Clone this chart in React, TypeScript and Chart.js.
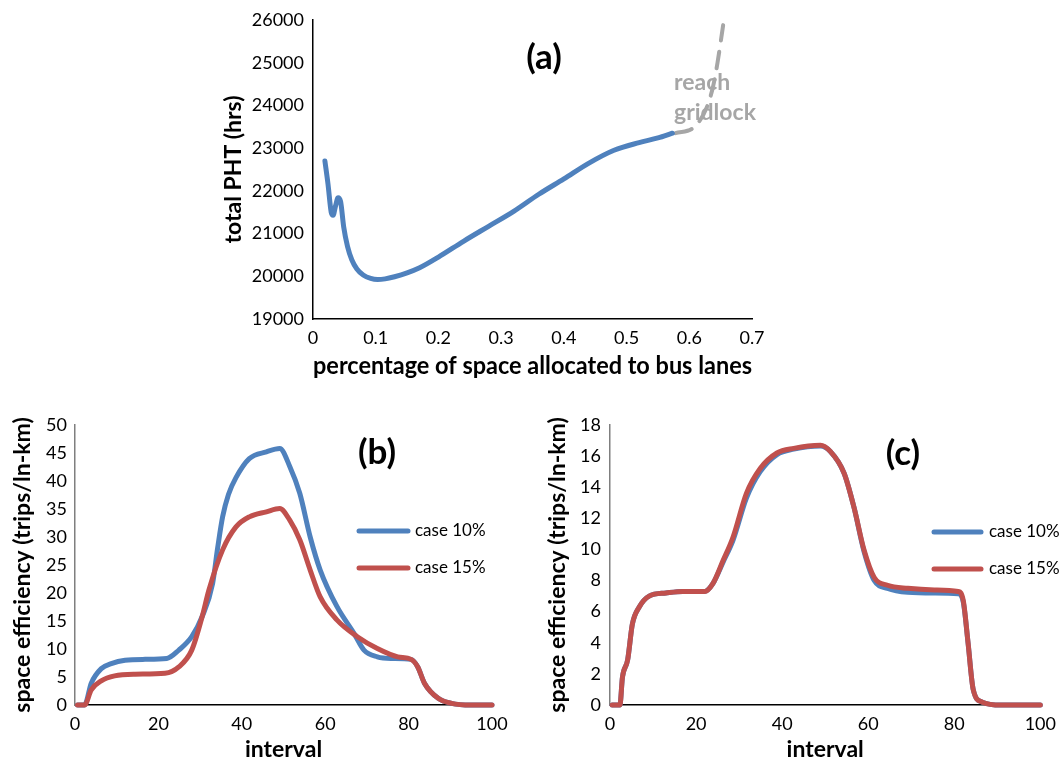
import React, { useEffect, useRef } from 'react';
import { Chart, registerables } from 'chart.js';

Chart.register(...registerables);

const FONT = 'Lato, "Open Sans", "DejaVu Sans", sans-serif';
const BLUE = '#4F81BD';
const RED = '#C0504D';
const GRAY = '#A6A6A6';

// ---------- (a) total PHT vs bus-lane share ----------
const aShare = [0.019, 0.024, 0.029, 0.032, 0.036, 0.040, 0.044, 0.049, 0.055, 0.062, 0.070, 0.080, 0.092, 0.103, 0.115, 0.130, 0.150, 0.170, 0.200, 0.240, 0.280, 0.320, 0.360, 0.400, 0.440, 0.480, 0.520, 0.550, 0.573];
const aPHT = [22700, 22150, 21500, 21430, 21650, 21840, 21750, 21150, 20700, 20380, 20170, 20030, 19950, 19925, 19940, 19990, 20080, 20200, 20450, 20820, 21170, 21520, 21920, 22280, 22650, 22950, 23130, 23240, 23350];
const aGridShare = [0.578, 0.608, 0.628, 0.638, 0.645, 0.654];
const aGridPHT = [23350, 23495, 23960, 24450, 25000, 25880];
const aXTicks = [0, 0.1, 0.2, 0.3, 0.4, 0.5, 0.6, 0.7];
const aXTickLabels = ['0', '0.1', '0.2', '0.3', '0.4', '0.5', '0.6', '0.7'];
const aYTicks = [19000, 20000, 21000, 22000, 23000, 24000, 25000, 26000];
const aYTickLabels = ['19000', '20000', '21000', '22000', '23000', '24000', '25000', '26000'];

// ---------- (b) space efficiency ----------
const b10X = [0.6, 2.3, 3.9, 6.3, 8.7, 12, 16.8, 22, 24.9, 28, 30.5, 33, 34.2, 35.4, 36.8, 38.6, 41.8, 45.9, 49.1, 51.5, 53.9, 56.4, 58.8, 62.8, 66.9, 69.3, 72.5, 75.8, 80.6, 82.2, 83.8, 87.1, 90.3, 95, 100];
const b10 = [0, 0, 3.9, 6.5, 7.4, 8.0, 8.15, 8.3, 9.8, 12.2, 15.8, 21.7, 28.0, 33.6, 37.6, 40.6, 44, 45.2, 45.8, 42.6, 37.8, 30, 24.1, 17.6, 12.8, 9.8, 8.6, 8.3, 8.15, 6.8, 3.9, 1.2, 0.3, 0, 0];
const b15X = [0.6, 2.3, 3.9, 6.3, 9.5, 14.4, 21.6, 24.9, 28, 30.5, 32.1, 35.4, 38.6, 41.8, 45.9, 49.1, 51.5, 53.9, 56.4, 58.8, 62.8, 67.7, 72.5, 77.4, 80.6, 82.2, 83.8, 87.1, 90.3, 95, 100];
const b15 = [0, 0, 2.7, 4.3, 5.2, 5.5, 5.65, 6.8, 9.8, 15.8, 20.5, 27.7, 31.8, 33.6, 34.5, 35.1, 33, 29.5, 24.1, 19.3, 15.2, 12.2, 10.1, 8.6, 8.15, 6.8, 3.9, 1.2, 0.3, 0, 0];
const bYTicks = [0, 5, 10, 15, 20, 25, 30, 35, 40, 45, 50];

// ---------- (c) space efficiency ----------
const cX = [0.5, 2.3, 2.9, 4.1, 5.2, 6.8, 9.1, 13, 16.9, 22, 23.9, 26.3, 28.6, 31.7, 34.9, 38.8, 42.7, 48.9, 51.2, 54.4, 56.7, 59, 61.4, 64.5, 69.2, 75.4, 80.9, 82.1, 83.2, 84.4, 86.4, 91, 100];
const c10 = [0, 0, 1.8, 2.9, 5.2, 6.3, 7.0, 7.2, 7.3, 7.3, 7.8, 9.2, 10.6, 13.3, 15.0, 16.1, 16.45, 16.65, 16.3, 14.9, 12.7, 9.9, 8.0, 7.5, 7.25, 7.2, 7.15, 6.6, 4.0, 1.0, 0.2, 0, 0];
const c15 = [0, 0, 1.8, 2.9, 5.2, 6.3, 7.0, 7.2, 7.3, 7.3, 7.8, 9.3, 10.8, 13.6, 15.2, 16.2, 16.5, 16.7, 16.3, 14.9, 12.7, 10, 8.2, 7.7, 7.5, 7.4, 7.3, 6.7, 4.0, 1.0, 0.2, 0, 0];
const cYTicks = [0, 2, 4, 6, 8, 10, 12, 14, 16, 18];

const intervalTicks = [0, 20, 40, 60, 80, 100];
const seriesLabels = ['case 10%', 'case 15%'];

const pts = (xs: number[], ys: number[]) => xs.map((x, i) => ({ x, y: ys[i] }));

type TextItem = { text: string; x: number; y: number; font: string; color: string; align?: CanvasTextAlign };
type LegendItem = { index: number; x1: number; x2: number; tx: number; y: number };

function figTextPlugin(under: TextItem[], over: TextItem[], legend: LegendItem[]) {
  const drawTexts = (ctx: CanvasRenderingContext2D, items: TextItem[]) => {
    items.forEach((t) => {
      ctx.font = t.font;
      ctx.fillStyle = t.color;
      ctx.textAlign = t.align || 'center';
      ctx.textBaseline = 'middle';
      ctx.fillText(t.text, t.x, t.y);
    });
  };
  return {
    id: 'figText',
    beforeDatasetsDraw(chart: any) {
      const ctx = chart.ctx;
      ctx.save();
      drawTexts(ctx, under);
      ctx.restore();
    },
    afterDraw(chart: any) {
      const ctx = chart.ctx;
      ctx.save();
      drawTexts(ctx, over);
      legend.forEach((l) => {
        const ds = chart.data.datasets[l.index];
        ctx.strokeStyle = ds.borderColor;
        ctx.lineWidth = 5;
        ctx.lineCap = 'round';
        ctx.beginPath();
        ctx.moveTo(l.x1, l.y);
        ctx.lineTo(l.x2, l.y);
        ctx.stroke();
        ctx.fillStyle = '#000';
        ctx.font = `17px ${FONT}`;
        ctx.textAlign = 'left';
        ctx.textBaseline = 'middle';
        ctx.fillText(ds.label, l.tx, l.y);
      });
      ctx.restore();
    },
  };
}

const lineStyle = {
  borderWidth: 5,
  pointRadius: 0,
  pointHoverRadius: 0,
  fill: false,
  cubicInterpolationMode: 'monotone',
  borderCapStyle: 'round',
  borderJoinStyle: 'round',
  clip: false,
};

function axisX(opts: any) {
  return {
    type: 'linear',
    min: opts.min,
    max: opts.max,
    afterBuildTicks: (s: any) => {
      s.ticks = opts.ticks.map((value: number) => ({ value }));
    },
    afterFit: (s: any) => {
      s.height = opts.height;
    },
    ticks: {
      font: { family: FONT, size: 18 },
      color: '#000',
      padding: opts.tickPad,
      maxRotation: 0,
      autoSkip: false,
      callback: opts.labels ? (_v: any, i: number) => opts.labels[i] : (v: any) => String(v),
    },
    grid: { display: false, drawTicks: false },
    border: { display: true, color: '#000', width: 1.5 },
    title: {
      display: true,
      text: opts.title,
      color: '#000',
      font: { family: FONT, size: opts.titleSize || 23, weight: 'bold', lineHeight: 1 },
      padding: { top: 0, bottom: opts.titlePad },
    },
  };
}

function axisY(opts: any) {
  return {
    type: 'linear',
    min: opts.min,
    max: opts.max,
    afterBuildTicks: (s: any) => {
      s.ticks = opts.ticks.map((value: number) => ({ value }));
    },
    afterFit: (s: any) => {
      s.width = opts.width;
    },
    ticks: {
      font: { family: FONT, size: 18 },
      color: '#000',
      padding: opts.tickPad,
      autoSkip: false,
      callback: opts.labels ? (_v: any, i: number) => opts.labels[i] : (v: any) => String(v),
    },
    grid: { display: false, drawTicks: false },
    border: { display: true, color: opts.borderColor || '#000', width: opts.borderWidth || 1.5 },
    title: {
      display: true,
      text: opts.title,
      color: '#000',
      font: { family: FONT, size: 23, weight: 'bold', lineHeight: 1.2 },
      padding: { top: opts.titlePad, bottom: 0 },
    },
  };
}

function baseOptions(padding: any, scales: any) {
  return {
    responsive: false,
    animation: false,
    events: [],
    layout: { padding },
    plugins: { legend: { display: false }, tooltip: { enabled: false }, title: { display: false } },
    scales,
  };
}

function configA() {
  return {
    type: 'line',
    data: {
      datasets: [
        { ...lineStyle, label: 'total PHT', data: pts(aShare, aPHT), borderColor: BLUE },
        { ...lineStyle, label: 'reach gridlock', data: pts(aGridShare, aGridPHT), borderColor: GRAY, borderWidth: 4, borderDash: [17, 11] },
      ],
    },
    options: baseOptions(
      { top: 20, right: 28, left: 0, bottom: 0 },
      {
        x: axisX({ min: 0, max: 0.7, ticks: aXTicks, labels: aXTickLabels, height: 66, tickPad: 8, title: 'percentage of space allocated to bus lanes', titlePad: 7, titleSize: 24 }),
        y: axisY({ min: 19000, max: 26000, ticks: aYTicks, labels: aYTickLabels, width: 113, tickPad: 9, title: 'total PHT (hrs)', titlePad: 20 }),
      }
    ),
    plugins: [
      figTextPlugin(
        [
          { text: 'reach', x: 474, y: 83, font: `bold 23px ${FONT}`, color: GRAY, align: 'left' },
          { text: 'gridlock', x: 474, y: 113, font: `bold 23px ${FONT}`, color: GRAY, align: 'left' },
        ],
        [{ text: '(a)', x: 344, y: 58, font: `bold 35px ${FONT}`, color: '#000' }],
        []
      ),
    ],
  };
}

function configB() {
  return {
    type: 'line',
    data: {
      datasets: [
        { ...lineStyle, label: seriesLabels[0], data: pts(b10X, b10), borderColor: BLUE, order: 1 },
        { ...lineStyle, label: seriesLabels[1], data: pts(b15X, b15), borderColor: RED, order: 0 },
      ],
    },
    options: baseOptions(
      { top: 20, right: 38, left: 0, bottom: 0 },
      {
        x: axisX({ min: 0, max: 100, ticks: intervalTicks, height: 53, tickPad: 8, title: 'interval', titlePad: -3 }),
        y: axisY({ min: 0, max: 50, ticks: bYTicks, width: 75, tickPad: 8, title: 'space efficiency (trips/ln-km)', titlePad: 9, borderColor: '#7f7f7f', borderWidth: 1.5 }),
      }
    ),
    plugins: [
      figTextPlugin(
        [],
        [{ text: '(b)', x: 377, y: 48, font: `bold 35px ${FONT}`, color: '#000' }],
        [
          { index: 0, x1: 359, x2: 408, tx: 415, y: 126 },
          { index: 1, x1: 359, x2: 408, tx: 415, y: 163 },
        ]
      ),
    ],
  };
}

function configC() {
  return {
    type: 'line',
    data: {
      datasets: [
        { ...lineStyle, label: seriesLabels[0], data: pts(cX, c10), borderColor: BLUE, order: 1 },
        { ...lineStyle, label: seriesLabels[1], data: pts(cX, c15), borderColor: RED, order: 0 },
      ],
    },
    options: baseOptions(
      { top: 20, right: 16, left: 0, bottom: 0 },
      {
        x: axisX({ min: 0, max: 100, ticks: intervalTicks, height: 53, tickPad: 8, title: 'interval', titlePad: -3 }),
        y: axisY({ min: 0, max: 18, ticks: cYTicks, width: 80, tickPad: 9, title: 'space efficiency (trips/ln-km)', titlePad: 14, borderColor: '#7f7f7f', borderWidth: 1.5 }),
      }
    ),
    plugins: [
      figTextPlugin(
        [],
        [{ text: '(c)', x: 373, y: 49, font: `bold 35px ${FONT}`, color: '#000' }],
        [
          { index: 0, x1: 404, x2: 451, tx: 459, y: 127 },
          { index: 1, x1: 404, x2: 451, tx: 459, y: 164 },
        ]
      ),
    ],
  };
}

function ChartCanvas(props: { left: number; top: number; width: number; height: number; make: () => any }) {
  const ref = useRef<HTMLCanvasElement | null>(null);
  useEffect(() => {
    let chart: any = null;
    let cancelled = false;
    const build = () => {
      if (cancelled || !ref.current) return;
      chart = new Chart(ref.current, props.make());
    };
    const fontsReady = (document as any).fonts
      ? Promise.all([
          (document as any).fonts.load(`17px Lato`),
          (document as any).fonts.load(`bold 23px Lato`),
        ]).catch(() => null)
      : Promise.resolve(null);
    fontsReady.then(build);
    return () => {
      cancelled = true;
      if (chart) chart.destroy();
    };
  }, []);
  return (
    <canvas
      ref={ref}
      width={props.width}
      height={props.height}
      style={{ position: 'absolute', left: props.left, top: props.top, width: props.width, height: props.height }}
    />
  );
}

export default function App() {
  return (
    <div style={{ position: 'fixed', left: 0, top: 0, width: 1064, height: 758, background: '#fff', overflow: 'hidden' }}>
      <ChartCanvas left={200} top={0} width={580} height={385} make={configA} />
      <ChartCanvas left={0} top={405} width={530} height={353} make={configB} />
      <ChartCanvas left={530} top={405} width={534} height={353} make={configC} />
    </div>
  );
}
